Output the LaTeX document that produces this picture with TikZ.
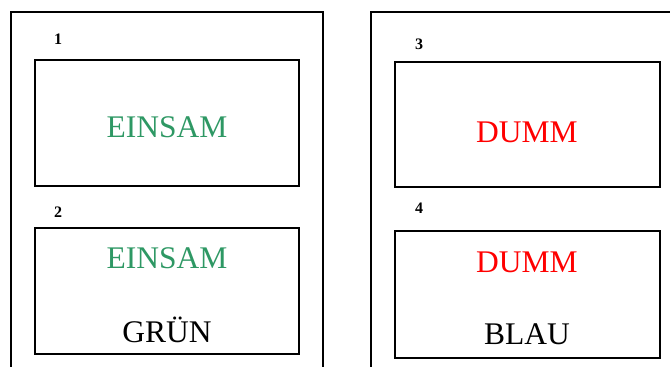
\documentclass[tikz,border=0pt]{standalone}
\usepackage{fontspec}
\setmainfont{Liberation Serif}
\definecolor{einsamgreen}{RGB}{46,152,100}
\definecolor{dummred}{RGB}{255,0,0}

\begin{document}
\begin{tikzpicture}[x=1pt, y=-1pt,
	panel/.style={line width=1.2pt},
	card/.style={draw, line width=1.3pt, inner sep=0pt, minimum width=264pt, minimum height=126pt},
	num/.style={anchor=base, font=\fontsize{16}{16}\selectfont\bfseries},
	word/.style={anchor=base, font=\fontsize{31.5}{31.5}\selectfont}]
	\useasboundingbox (0,0) rectangle (670,367);
	\clip (0,0) rectangle (670,367);

	% the two open panels, cut off at the bottom
	\draw[panel] (11,380) -- (11,12) -- (323,12) -- (323,380);
	\draw[panel] (371,380) -- (371,12) -- (690,12);

	% cards
	\node[card] (card1) at (167,123) {};
	\node[card] (card2) at (167,291) {};
	\node[card, minimum width=265pt, minimum height=125pt] (card3) at (527.5,124.5) {};
	\node[card, minimum width=265pt, minimum height=127pt] (card4) at (527.5,294.5) {};

	% numbers
	\node[num] (n1) at (58,44) {1};
	\node[num] (n2) at (58,217) {2};
	\node[num] (n3) at (419,49) {3};
	\node[num] (n4) at (419,213) {4};

	% words
	\node[word, einsamgreen] (w1) at (167,137) {EINSAM};
	\node[word, einsamgreen] (w2) at (167,268) {EINSAM};
	\node[word] (c2) at (167,342) {GRÜN};
	\node[word, dummred] (w3) at (527,142) {DUMM};
	\node[word, dummred] (w4) at (527,272) {DUMM};
	\node[word] (c4) at (527,344) {BLAU};
\end{tikzpicture}
\end{document}
